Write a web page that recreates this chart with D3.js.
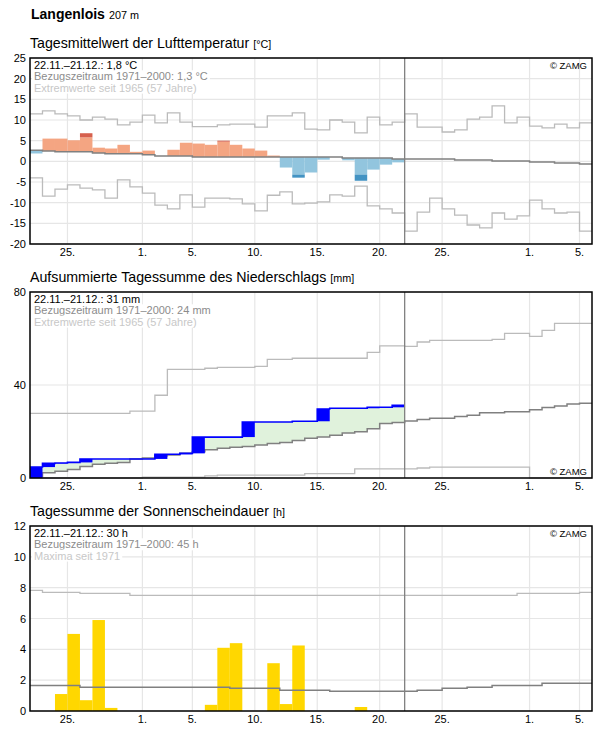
<!DOCTYPE html>
<html>
<head>
<meta charset="utf-8">
<script src="https://cdn.jsdelivr.net/npm/d3@7"></script>
<style>
  body { margin: 0; background: #fff; }
  text { font-family: "Liberation Sans", Arial, sans-serif; }
</style>
</head>
<body>
<script>

// x axis: day index from 22.11. (0) to about 6.1. (45)
var xTickDays = [3, 9, 13, 18, 23, 28, 33, 40, 44];
var xTickLabels = ['25.', '1.', '5.', '10.', '15.', '20.', '25.', '1.', '5.'];
var todayIndex = 30;

// temperature [°C]
var tempTicks = [-20, -15, -10, -5, 0, 5, 10, 15, 20, 25];
var tempActual = [1.9, 5.5, 5.5, 5.1, 6.8, 3.3, 3.1, 4.0, 2.3, 2.6, 1.3, 2.8, 4.5, 4.3, 4.0,
                  5.0, 4.0, 3.1, 2.6, 1.4, -1.5, -3.95, -2.7, 0.4, 1.05, 0.25, -4.7, -2.0, -0.8, -0.25];
// where the darker shade of a bar begins
var tempDarkFrom = [null, null, null, null, 5.8, null, null, null, null, null, null, null, null, null, null,
                    4.75, null, null, null, null, null, -3.2, null, null, null, null, -3.2, null, null, null];
var tempMean = [2.7, 2.5, 2.3, 2.3, 2.3, 2.0, 1.85, 1.85, 1.85, 1.6, 1.3, 1.3, 1.3, 1.05, 1.05,
                1.05, 1.05, 1.05, 1.05, 1.05, 1.05, 1.05, 1.05, 1.05, 1.05, 0.8, 0.8, 0.8, 0.8, 0.56,
                0.56, 0.56, 0.56, 0.56, 0.32, 0.32, 0.32, 0.08, 0.08, 0.08, -0.16, -0.16, -0.4, -0.4, -0.65];
var tempMax = [11.5, 12.2, 11.5, 11.0, 10.0, 10.7, 10.2, 8.8, 9.5, 11.2, 9.3, 11.7, 9.5, 8.4, 8.4,
               8.8, 9.0, 9.0, 8.3, 11.0, 11.0, 11.7, 7.8, 7.6, 10.0, 9.5, 6.9, 10.7, 8.8, 9.5,
               11.5, 8.3, 8.3, 7.1, 7.6, 10.2, 10.7, 13.4, 9.3, 10.7, 8.5, 8.1, 9.0, 8.1, 9.3];
var tempMin = [-4.0, -8.4, -6.7, -5.7, -6.5, -6.9, -8.9, -4.5, -6.2, -7.7, -10.6, -11.5, -8.1, -11.1, -8.9,
               -8.9, -9.1, -10.3, -12.0, -8.2, -7.4, -10.3, -10.1, -9.8, -8.1, -8.4, -6.0, -10.8, -11.5, -12.5,
               -16.9, -12.3, -8.9, -11.5, -13.0, -15.4, -16.1, -12.5, -14.0, -13.2, -9.4, -11.5, -12.5, -12.3, -16.9];

// accumulated precipitation [mm]
var precTicks = [0, 40, 80];
var precActual = [4.7, 6.3, 6.45, 6.7, 8.2, 8.2, 8.2, 8.2, 8.2, 8.2, 10.2, 10.2, 10.6, 17.6, 17.6,
                  17.6, 17.6, 24.1, 24.1, 24.1, 24.1, 24.4, 24.4, 29.7, 30.0, 30.0, 30.0, 30.4, 30.4, 31.3];
var precMean = [0.6, 2.3, 2.9, 3.7, 5.0, 5.9, 6.3, 6.7, 8.2, 8.6, 9.6, 9.9, 10.6, 11.3, 12.2,
                12.8, 13.2, 13.6, 14.2, 14.8, 15.3, 16.1, 17.1, 17.6, 18.4, 19.4, 19.9, 21.2, 23.4, 23.9,
                24.5, 25.2, 25.7, 25.7, 26.5, 27.0, 28.1, 28.1, 28.5, 28.5, 29.4, 30.3, 31.0, 31.8, 32.1];
var precMax = [27.8, 27.8, 27.8, 27.8, 27.8, 27.8, 27.8, 27.8, 28.8, 28.8, 35.6, 46.7, 46.7, 46.7, 47.2,
               47.6, 47.6, 47.6, 48.0, 51.0, 51.0, 51.5, 51.5, 51.5, 51.5, 51.5, 51.5, 54.0, 56.8, 56.8,
               56.6, 58.5, 59.2, 59.2, 59.2, 59.2, 59.2, 59.6, 62.2, 62.2, 60.9, 63.5, 66.5, 66.5, 66.5];
var precMin = [0, 0, 0, 0, 0, 0, 0, 0, 0, 0.4, 0.4, 0.4, 0.4, 0.4, 0.9,
               1.2, 1.2, 1.2, 1.2, 1.2, 1.2, 1.2, 1.9, 1.9, 1.9, 1.9, 3.9, 3.9, 3.9, 3.9,
               3.9, 4.3, 4.7, 4.7, 4.7, 4.7, 4.7, 4.7, 4.7, 4.7, 0, 0, 0, 0, 0];

// sunshine duration [h]
var sunTicks = [0, 2, 4, 6, 8, 10, 12];
var sunActual = [0, 0, 1.1, 5.0, 0.7, 5.9, 0.2, 0, 0, 0, 0, 0, 0, 0, 0.4,
                 4.1, 4.4, 0, 0, 3.1, 0.45, 4.25, 0, 0, 0, 0, 0.26, 0, 0, 0];
var sunMean = [1.66, 1.66, 1.66, 1.66, 1.54, 1.54, 1.54, 1.54, 1.54, 1.54, 1.54, 1.54, 1.54, 1.54, 1.54,
               1.54, 1.47, 1.47, 1.47, 1.47, 1.34, 1.34, 1.34, 1.34, 1.28, 1.28, 1.28, 1.28, 1.28, 1.28,
               1.28, 1.34, 1.34, 1.47, 1.47, 1.54, 1.54, 1.66, 1.66, 1.66, 1.66, 1.8, 1.8, 1.8, 1.8];
var sunMax = [7.83, 7.7, 7.7, 7.7, 7.63, 7.63, 7.63, 7.63, 7.5, 7.5, 7.5, 7.5, 7.5, 7.5, 7.5,
              7.5, 7.5, 7.5, 7.5, 7.5, 7.5, 7.5, 7.5, 7.5, 7.5, 7.5, 7.5, 7.5, 7.5, 7.5,
              7.5, 7.5, 7.5, 7.5, 7.5, 7.5, 7.5, 7.5, 7.5, 7.63, 7.63, 7.63, 7.63, 7.63, 7.7];

var svg = d3.select('body').append('svg').attr('width', 596).attr('height', 729);

var x = d3.scaleLinear().domain([0, 45]).range([30, 592]);

var gridColor = '#e6e6e6';
var extremeColor = '#bbbbbb';
var meanColor = '#808080';

// step line: each value holds for one day
var stepLine = function(y) {
  return d3.line()
    .curve(d3.curveStepAfter)
    .x(function(d) { return x(d[0]); })
    .y(function(d) { return y(d[1]); });
};
var stepPoints = function(values) {
  var pts = values.map(function(v, i) { return [i, v]; });
  pts.push([values.length, values[values.length - 1]]);
  return pts;
};

// title
var head = svg.append('text').attr('x', 31).attr('y', 19);
head.append('tspan').attr('font-size', 14).attr('font-weight', 'bold').text('Langenlois');
head.append('tspan').attr('font-size', 10.8).attr('dx', 4).text('207 m');

var makePanel = function(opts) {
  var g = svg.append('g');
  var y = d3.scaleLinear().domain(opts.domain).range([opts.bottom, opts.top]);

  var title = g.append('text').attr('x', 30).attr('y', opts.top - 10).attr('font-size', 14.2);
  title.append('tspan').text(opts.title);
  title.append('tspan').attr('font-size', 10.8).attr('dx', 4).text(opts.unit);

  // grid
  g.selectAll('.hgrid').data(opts.ticks).enter().append('line')
    .attr('x1', 30).attr('x2', 592)
    .attr('y1', function(d) { return y(d); }).attr('y2', function(d) { return y(d); })
    .attr('stroke', gridColor).attr('stroke-width', 1.2);
  g.selectAll('.vgrid').data(xTickDays).enter().append('line')
    .attr('x1', function(d) { return x(d); }).attr('x2', function(d) { return x(d); })
    .attr('y1', opts.top).attr('y2', opts.bottom)
    .attr('stroke', gridColor).attr('stroke-width', 1.2);

  // tick labels
  g.selectAll('.ylab').data(opts.ticks).enter().append('text')
    .attr('x', 26).attr('y', function(d) { return y(d) + 4; })
    .attr('text-anchor', 'end').attr('font-size', 11)
    .text(function(d) { return d; });
  g.selectAll('.xlab').data(xTickDays).enter().append('text')
    .attr('x', function(d) { return x(d); }).attr('y', opts.bottom + 12)
    .attr('text-anchor', 'middle').attr('font-size', 11)
    .text(function(d, i) { return xTickLabels[i]; });

  // info texts with white background
  var colors = ['#000', '#8c8c8c', '#c8c8c8'];
  opts.info.forEach(function(t, i) {
    var txt = g.append('text').attr('x', 34).attr('y', opts.top + 11 + i * 11.3)
      .attr('font-size', 11).attr('fill', colors[i]).text(t);
    var b = txt.node().getBBox();
    g.insert('rect', function() { return txt.node(); })
      .attr('x', b.x - 2).attr('y', b.y).attr('width', b.width + 4).attr('height', b.height)
      .attr('fill', '#fff');
  });

  var data = g.append('g');

  g.append('text').attr('x', 587)
    .attr('y', opts.zamgBottom ? opts.bottom - 3 : opts.top + 11)
    .attr('text-anchor', 'end').attr('font-size', 9.5).text('\u00a9 ZAMG');

  return { g: g, data: data, y: y, top: opts.top, bottom: opts.bottom };
};

var finishPanel = function(p) {
  p.g.append('line')
    .attr('x1', x(todayIndex)).attr('x2', x(todayIndex))
    .attr('y1', p.top).attr('y2', p.bottom)
    .attr('stroke', meanColor).attr('stroke-width', 1.3);
  p.g.append('rect')
    .attr('x', 30).attr('y', p.top).attr('width', 562).attr('height', p.bottom - p.top)
    .attr('fill', 'none').attr('stroke', '#000').attr('stroke-width', 1.5);
};

// ---------- temperature ----------
var p1 = makePanel({
  top: 58, bottom: 244, domain: [-20, 25], ticks: tempTicks,
  title: 'Tagesmittelwert der Lufttemperatur', unit: '[\u00b0C]',
  info: ['22.11.\u201321.12.: 1,8 \u00b0C', 'Bezugszeitraum 1971\u20132000: 1,3 \u00b0C', 'Extremwerte seit 1965 (57 Jahre)']
});

[tempMax, tempMin].forEach(function(arr) {
  p1.data.append('path').attr('d', stepLine(p1.y)(stepPoints(arr)))
    .attr('fill', 'none').attr('stroke', extremeColor).attr('stroke-width', 1.3);
});

tempActual.forEach(function(v, i) {
  var m = tempMean[i];
  var warm = v > m;
  var light = warm ? '#f4a582' : '#92c5de';
  var dark = warm ? '#d6604d' : '#4393c3';
  var mid = tempDarkFrom[i] === null ? v : tempDarkFrom[i];
  p1.data.append('rect')
    .attr('x', x(i)).attr('width', x(i + 1) - x(i))
    .attr('y', p1.y(Math.max(m, mid))).attr('height', Math.abs(p1.y(m) - p1.y(mid)))
    .attr('fill', light);
  if (tempDarkFrom[i] !== null) {
    p1.data.append('rect')
      .attr('x', x(i)).attr('width', x(i + 1) - x(i))
      .attr('y', p1.y(Math.max(v, mid))).attr('height', Math.abs(p1.y(v) - p1.y(mid)))
      .attr('fill', dark);
  }
});

p1.data.append('path').attr('d', stepLine(p1.y)(stepPoints(tempMean)))
  .attr('fill', 'none').attr('stroke', meanColor).attr('stroke-width', 1.5);
finishPanel(p1);

// ---------- precipitation ----------
var p2 = makePanel({
  top: 292, bottom: 478, domain: [0, 80], ticks: precTicks, zamgBottom: true,
  title: 'Aufsummierte Tagessumme des Niederschlags', unit: '[mm]',
  info: ['22.11.\u201321.12.: 31 mm', 'Bezugszeitraum 1971\u20132000: 24 mm', 'Extremwerte seit 1965 (57 Jahre)']
});

var greenArea = d3.area()
  .curve(d3.curveStepAfter)
  .x(function(d) { return x(d[0]); })
  .y0(function(d) { return p2.y(d[2]); })
  .y1(function(d) { return p2.y(d[1]); });
var areaPts = precActual.map(function(v, i) { return [i, v, precMean[i]]; });
areaPts.push([precActual.length, precActual[precActual.length - 1], precMean[precActual.length - 1]]);
p2.data.append('path').attr('d', greenArea(areaPts)).attr('fill', '#e0f2dc');

[precMax, precMin].forEach(function(arr) {
  p2.data.append('path').attr('d', stepLine(p2.y)(stepPoints(arr)))
    .attr('fill', 'none').attr('stroke', extremeColor).attr('stroke-width', 1.3);
});

p2.data.append('path').attr('d', stepLine(p2.y)(stepPoints(precMean)))
  .attr('fill', 'none').attr('stroke', meanColor).attr('stroke-width', 1.5);

p2.data.selectAll('.pbar').data(precActual).enter().append('rect')
  .attr('x', function(d, i) { return x(i); })
  .attr('width', function(d, i) { return x(i + 1) - x(i); })
  .attr('y', function(d) { return p2.y(d); })
  .attr('height', function(d, i) { return p2.y(i === 0 ? 0 : precActual[i - 1]) - p2.y(d); })
  .attr('fill', '#0000ff');

p2.data.append('path').attr('d', stepLine(p2.y)(stepPoints(precActual)))
  .attr('fill', 'none').attr('stroke', '#0000ff').attr('stroke-width', 1.6);
finishPanel(p2);

// ---------- sunshine ----------
var p3 = makePanel({
  top: 526, bottom: 711, domain: [0, 12], ticks: sunTicks,
  title: 'Tagessumme der Sonnenscheindauer', unit: '[h]',
  info: ['22.11.\u201321.12.: 30 h', 'Bezugszeitraum 1971\u20132000: 45 h', 'Maxima seit 1971']
});

p3.data.append('path').attr('d', stepLine(p3.y)(stepPoints(sunMax)))
  .attr('fill', 'none').attr('stroke', extremeColor).attr('stroke-width', 1.3);

p3.data.selectAll('.sbar').data(sunActual).enter().append('rect')
  .attr('x', function(d, i) { return x(i); })
  .attr('width', function(d, i) { return x(i + 1) - x(i); })
  .attr('y', function(d) { return p3.y(d); })
  .attr('height', function(d) { return p3.y(0) - p3.y(d); })
  .attr('fill', '#ffd700');

p3.data.append('path').attr('d', stepLine(p3.y)(stepPoints(sunMean)))
  .attr('fill', 'none').attr('stroke', meanColor).attr('stroke-width', 1.5);
finishPanel(p3);

</script>
</body>
</html>
